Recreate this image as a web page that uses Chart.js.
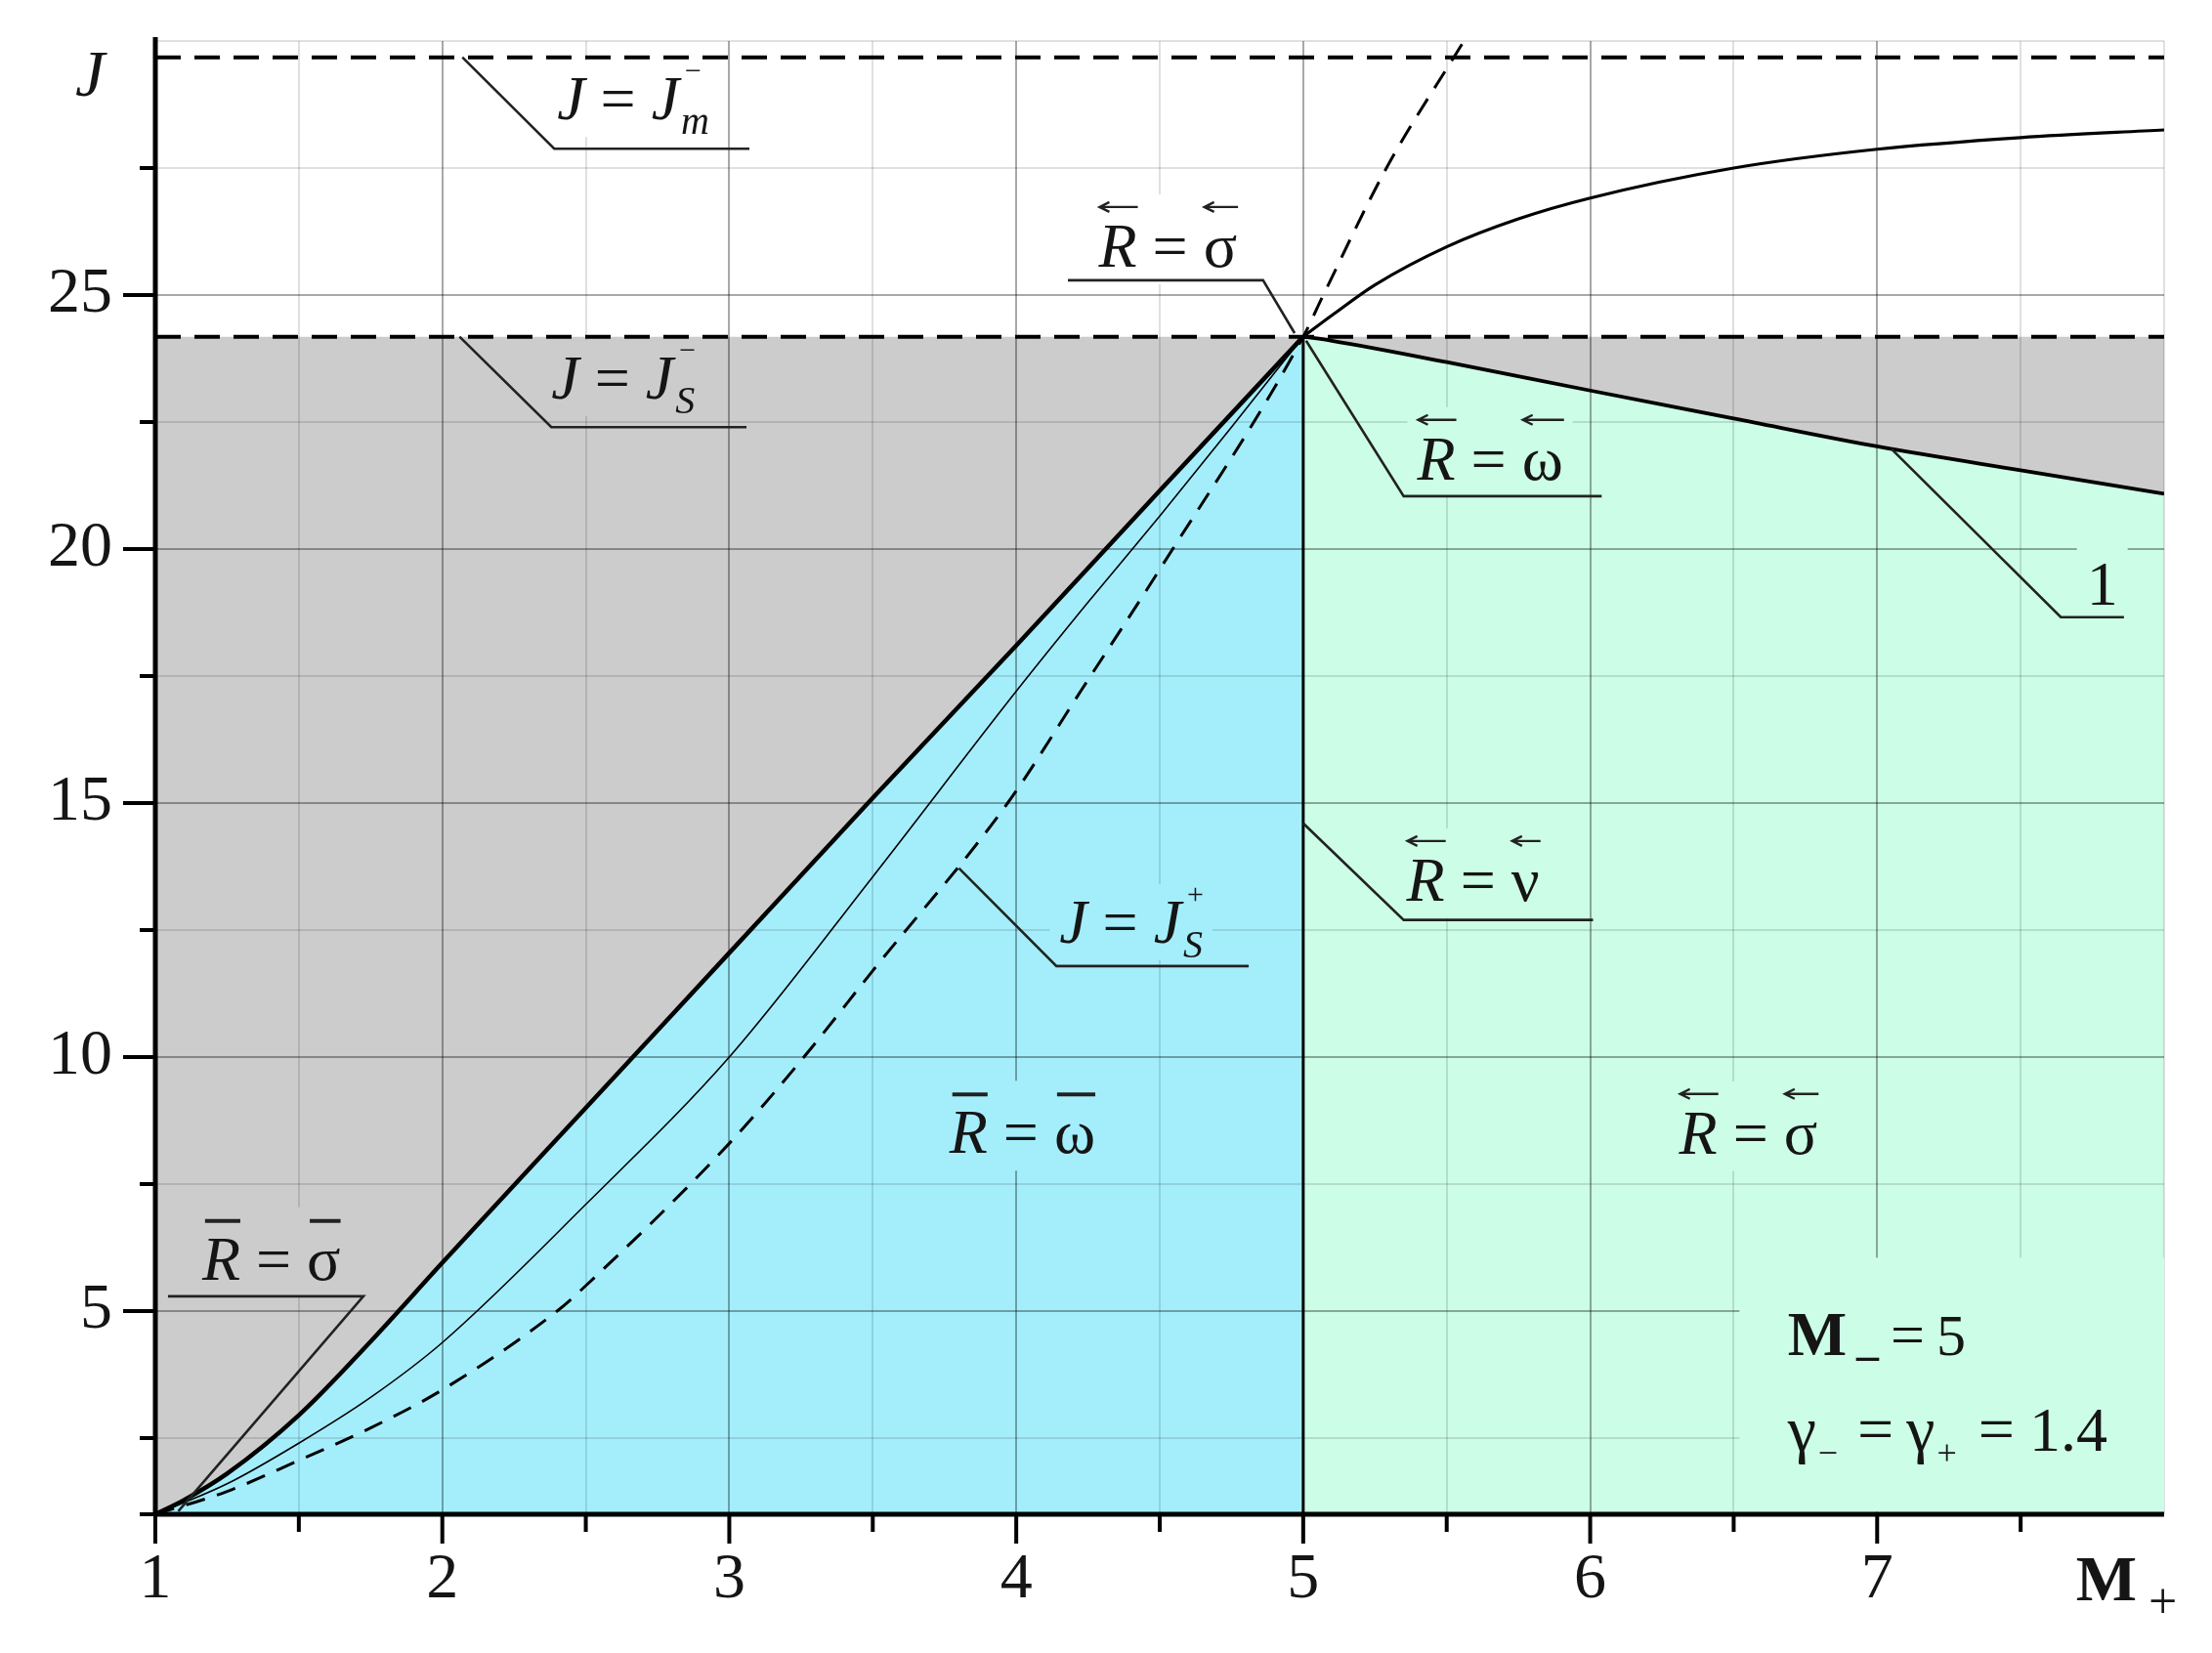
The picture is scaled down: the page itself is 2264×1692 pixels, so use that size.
<!DOCTYPE html>
<html>
<head>
<meta charset="utf-8">
<title>J – M+ diagram</title>
<script src="https://cdn.jsdelivr.net/npm/chart.js@4.4.1/dist/chart.umd.min.js"></script>
<style>
  html, body { margin: 0; padding: 0; background: #fff; }
  #wrap { width: 2264px; height: 1692px; position: relative; }
  #fontwarm { position: absolute; left: -5000px; top: 0; font-family: "Liberation Serif"; font-size: 40px; }
</style>
</head>
<body>
<div id="fontwarm">Aa25 <i>JR</i> <b>M</b> σων γ</div>
<div id="wrap"><canvas id="chart" width="2264" height="1692"></canvas></div>
<script>
// axes
const xTicks = [1, 1.5, 2, 2.5, 3, 3.5, 4, 4.5, 5, 5.5, 6, 6.5, 7, 7.5, 8];
const yTicks = [1, 2.5, 5, 7.5, 10, 12.5, 15, 17.5, 20, 22.5, 25, 27.5, 30];
const xTickLabels = ['1', '2', '3', '4', '5', '6', '7'];
const yTickLabels = ['5', '10', '15', '20', '25'];

// horizontal levels
const jmMinus = 29.68;   // J = J_m^-
const jsMinus = 24.18;   // J = J_s^-
const shockM = 5;        // vertical boundary M+ = 5

// thick boundary of the blue region
const boundM = [1, 1.1, 1.25, 1.5, 1.75, 2, 2.5, 3, 3.5, 4, 4.5, 5];
const boundJ = [1, 1.28, 1.8, 2.95, 4.4, 5.95, 9.0, 12.05, 15.1, 18.1, 21.15, 24.18];

// thin solid curve
const thinM = [1, 1.25, 1.5, 1.75, 2, 2.5, 3, 3.5, 4, 4.25, 4.5, 4.75, 5];
const thinJ = [1, 1.6, 2.4, 3.3, 4.38, 7.1, 10.0, 13.55, 17.2, 18.95, 20.65, 22.4, 24.18];

// dashed J = J_s^+
const jsPlusM = [1, 1.25, 1.5, 1.75, 2, 2.4, 2.5, 3, 3.26, 3.5, 3.97, 4.23, 4.5, 5, 5.07, 5.29, 5.56];
const jsPlusJ = [1, 1.45, 2.06, 2.7, 3.45, 5.0, 5.5, 8.3, 10.0, 11.7, 15.0, 17.25, 19.6, 24.18, 25.0, 27.5, 30.0];

// upper solid curve (M+ > 5)
const upperM = [5, 5.1, 5.25, 5.5, 5.75, 6, 6.5, 7, 7.5, 8];
const upperJ = [24.18, 24.6, 25.2, 25.95, 26.5, 26.91, 27.5, 27.87, 28.1, 28.25];

// curve 1 (top of the green region)
const curve1M = [5, 5.1, 5.5, 6, 6.5, 7, 7.5, 8];
const curve1J = [24.18, 24.1, 23.68, 23.12, 22.57, 22.02, 21.55, 21.09];

const GRAY = '#cccccc';
const BLUE = '#a4eefc';
const GREEN = '#ccfde6';

const pts = (ms, js) => ms.map((m, i) => ({ x: m, y: js[i] }));

// fonts
const FAM = '"Liberation Serif", "Tinos", "Times New Roman", "Times", serif';
const it = s => `italic ${s}px ${FAM}`;
const up = s => `${s}px ${FAM}`;
const bd = s => `bold ${s}px ${FAM}`;

const eqR = (sym, mark) => [
  { t: 'R', font: it(64), mark },
  { t: ' = ', font: up(64) },
  { t: sym, font: up(64), mark }
];
const eqJ = (sup, sub) => [
  { t: 'J', font: it(64) },
  { t: ' = ', font: up(64) },
  { t: 'J', font: it(64) },
  { t: sup, font: up(30), dy: -40, dx: 6, stack: true },
  { t: sub, font: it(40), dy: 15, dx: 2 }
];

// leader lines (M+, J)
const leaders = [
  [[2.07, jmMinus], [2.39, 27.88], [3.07, 27.88]],
  [[2.06, jsMinus], [2.38, 22.4], [3.06, 22.4]],
  [[4.18, 25.29], [4.86, 25.29], [4.97, 24.25]],
  [[5.01, 24.1], [5.35, 21.04], [6.04, 21.04]],
  [[7.05, 21.97], [7.64, 18.66], [7.86, 18.66]],
  [[1.044, 5.29], [1.725, 5.29], [1.08, 1.06]],
  [[3.8, 13.72], [4.14, 11.79], [4.81, 11.79]],
  [[5.0, 14.6], [5.35, 12.7], [6.01, 12.7]]
];

// text notes: left edge (M+) and baseline (J)
const notes = [
  { x: 2.40, y: 28.46, bg: '#ffffff', parts: eqJ('\u2212', 'm') },
  { x: 2.38, y: 22.96, bg: GRAY, parts: eqJ('\u2212', 'S') },
  { x: 4.287, y: 25.56, bg: '#ffffff', parts: eqR('\u03c3', 'arrow') },
  { x: 5.397, y: 21.37, bg: GREEN, parts: eqR('\u03c9', 'arrow') },
  { x: 7.73, y: 18.9, bg: GREEN, parts: [{ t: '1', font: up(64) }] },
  { x: 1.163, y: 5.62, bg: GRAY, parts: eqR('\u03c3', 'bar') },
  { x: 4.15, y: 12.25, bg: BLUE, parts: eqJ('+', 'S') },
  { x: 5.36, y: 13.08, bg: GREEN, parts: eqR('\u03bd', 'arrow') },
  { x: 3.767, y: 8.11, bg: BLUE, parts: eqR('\u03c9', 'bar') },
  { x: 6.31, y: 8.1, bg: GREEN, parts: eqR('\u03c3', 'arrow') },
  { x: 6.688, y: 4.135, parts: [
    { t: 'M', font: bd(64) },
    { t: '_', font: bd(46), dx: 10 },
    { t: '=', font: up(62), dx: 12 },
    { t: '5', font: up(60), dx: 12 }
  ] },
  { x: 6.688, y: 2.25, parts: [
    { t: '\u03b3', font: up(66) },
    { t: '\u2212', font: up(36), dy: 14, dx: 2 },
    { t: '=', font: up(66), dx: 20 },
    { t: '\u03b3', font: up(66), dx: 13 },
    { t: '+', font: up(36), dy: 14, dx: 2 },
    { t: '=', font: up(66), dx: 22 },
    { t: '1.4', font: up(64), dx: 15 }
  ] }
];
// plain green panel behind the parameter text
const panel = { x0: 6.52, x1: 8, y0: 1.05, y1: 6.05 };

function layout(ctx, parts) {
  let cx = 0;
  const items = parts.map(p => {
    ctx.font = p.font;
    const w = ctx.measureText(p.t).width;
    const item = Object.assign({}, p, { x: cx + (p.dx || 0), w });
    if (!p.stack) cx = item.x + w;
    return item;
  });
  return { items, width: cx };
}

function drawMark(ctx, kind, x0, x1, y) {
  ctx.beginPath();
  if (kind === 'arrow') {
    ctx.lineWidth = 2.4;
    ctx.moveTo(x0, y); ctx.lineTo(x1, y);
    ctx.moveTo(x0 + 10, y - 5); ctx.lineTo(x0, y); ctx.lineTo(x0 + 10, y + 5);
  } else {
    ctx.lineWidth = 4;
    ctx.moveTo(x0, y); ctx.lineTo(x1, y);
  }
  ctx.stroke();
}

const overlay = {
  id: 'overlay',
  beforeDatasetsDraw(chart) {
    const { ctx, chartArea: a, scales: { x, y } } = chart;
    ctx.save();
    // grid over the fills
    ctx.lineWidth = 2;
    x.ticks.forEach(t => {
      if (t.value <= 1) return;
      const px = Math.round(x.getPixelForValue(t.value));
      const major = Number.isInteger(t.value) && t.value < 8;
      ctx.strokeStyle = major ? 'rgba(0,0,0,0.34)' : 'rgba(0,0,0,0.12)';
      ctx.beginPath(); ctx.moveTo(px, a.top); ctx.lineTo(px, a.bottom); ctx.stroke();
    });
    y.ticks.forEach(t => {
      if (t.value <= 1) return;
      const py = Math.round(y.getPixelForValue(t.value));
      const major = t.value % 5 === 0 && t.value < 30;
      ctx.strokeStyle = major ? 'rgba(0,0,0,0.34)' : 'rgba(0,0,0,0.12)';
      ctx.beginPath(); ctx.moveTo(a.left, py); ctx.lineTo(a.right, py); ctx.stroke();
    });
    // text backgrounds
    ctx.fillStyle = GREEN;
    const px0 = x.getPixelForValue(panel.x0), px1 = x.getPixelForValue(panel.x1);
    const py0 = y.getPixelForValue(panel.y1), py1 = y.getPixelForValue(panel.y0);
    ctx.fillRect(px0, py0, px1 - px0, py1 - py0);
    notes.forEach(n => {
      if (!n.bg) return;
      const L = layout(ctx, n.parts);
      const hasMark = n.parts.some(p => p.mark);
      const bx = x.getPixelForValue(n.x), by = y.getPixelForValue(n.y);
      const top = hasMark ? by - 74 : by - 60;
      ctx.fillStyle = n.bg;
      ctx.fillRect(bx - 10, top, L.width + 20, by + 18 - top);
    });
    ctx.restore();
  },
  afterDatasetsDraw(chart) {
    const { ctx, chartArea: a, scales: { x, y } } = chart;
    ctx.save();
    ctx.strokeStyle = '#000';
    // tick marks
    ctx.lineWidth = 4;
    x.ticks.forEach(t => {
      if (t.value >= 8) return;
      const px = x.getPixelForValue(t.value);
      const len = Number.isInteger(t.value) ? 30 : 18;
      ctx.beginPath(); ctx.moveTo(px, a.bottom); ctx.lineTo(px, a.bottom + len); ctx.stroke();
    });
    y.ticks.forEach(t => {
      if (t.value >= 30) return;
      const py = y.getPixelForValue(t.value);
      const len = t.value % 5 === 0 ? 33 : 16;
      ctx.beginPath(); ctx.moveTo(a.left, py); ctx.lineTo(a.left - len, py); ctx.stroke();
    });
    // axis lines
    ctx.lineWidth = 5;
    ctx.beginPath(); ctx.moveTo(a.left, a.top - 4); ctx.lineTo(a.left, a.bottom + 2); ctx.stroke();
    ctx.beginPath(); ctx.moveTo(a.left - 2, a.bottom); ctx.lineTo(a.right, a.bottom); ctx.stroke();

    // leader lines
    ctx.strokeStyle = '#222';
    ctx.lineWidth = 2.6;
    leaders.forEach(line => {
      ctx.beginPath();
      line.forEach(([m, j], i) => {
        const px = x.getPixelForValue(m), py = y.getPixelForValue(j);
        if (i === 0) ctx.moveTo(px, py); else ctx.lineTo(px, py);
      });
      ctx.stroke();
    });

    // notes
    ctx.fillStyle = '#151515';
    ctx.strokeStyle = '#222';
    ctx.textBaseline = 'alphabetic';
    ctx.textAlign = 'left';
    notes.forEach(n => {
      const L = layout(ctx, n.parts);
      const bx = x.getPixelForValue(n.x), by = y.getPixelForValue(n.y);
      L.items.forEach(p => {
        ctx.font = p.font;
        ctx.fillText(p.t, bx + p.x, by + (p.dy || 0));
        if (p.mark === 'arrow') drawMark(ctx, 'arrow', bx + p.x + 1, bx + p.x + p.w + 1, by - 61);
        if (p.mark === 'bar') drawMark(ctx, 'bar', bx + p.x + 3, bx + p.x + p.w, by - 60);
      });
    });

    // axis titles
    ctx.font = it(68);
    ctx.fillText('J', a.left - 82, y.getPixelForValue(28.92));
    ctx.font = bd(66);
    const mx = x.getPixelForValue(7.693);
    ctx.fillText('M', mx, a.bottom + 88);
    const mw = ctx.measureText('M').width;
    ctx.font = up(52);
    ctx.fillText('+', mx + mw + 12, a.bottom + 106);
    ctx.restore();
  }
};

const lineDs = (data, extra) => Object.assign({
  data,
  borderColor: '#000',
  backgroundColor: 'transparent',
  pointRadius: 0,
  fill: false,
  cubicInterpolationMode: 'monotone'
}, extra);

const tickFont = { family: '"Liberation Serif", "Tinos", "Times New Roman", serif', size: 66 };

const chart = new Chart(document.getElementById('chart'), {
  type: 'line',
  data: {
    datasets: [
      lineDs(pts(boundM, boundJ), { borderWidth: 4.5 }),
      lineDs(pts(upperM, upperJ), { borderWidth: 3.2 }),
      lineDs(pts(curve1M, curve1J), { borderWidth: 3.8 }),
      lineDs(pts([shockM, shockM], [1, jsMinus]), { borderWidth: 3, cubicInterpolationMode: 'default', tension: 0 }),
      lineDs(pts(thinM, thinJ), { borderWidth: 1.6 }),
      lineDs(pts(jsPlusM, jsPlusJ), { borderWidth: 3, borderDash: [20, 13] }),
      lineDs(pts([1, 8], [jmMinus, jmMinus]), { borderWidth: 4, borderDash: [26, 14] }),
      lineDs(pts([1, 8], [jsMinus, jsMinus]), { borderWidth: 4, borderDash: [26, 14] }),
      // fills (highest index painted first)
      lineDs(pts(curve1M, curve1J), { borderWidth: 0, borderColor: 'transparent', backgroundColor: GREEN, fill: 'start' }),
      lineDs(pts(boundM, boundJ), { borderWidth: 0, borderColor: 'transparent', backgroundColor: BLUE, fill: 'start' }),
      lineDs(pts([1, 8], [jsMinus, jsMinus]), { borderWidth: 0, borderColor: 'transparent', backgroundColor: GRAY, fill: 'start' })
    ]
  },
  options: {
    responsive: false,
    animation: false,
    devicePixelRatio: 1,
    events: [],
    layout: { padding: { top: 42, right: 49, left: 0, bottom: 0 } },
    plugins: {
      legend: { display: false },
      tooltip: { enabled: false },
      filler: { drawTime: 'beforeDatasetsDraw', propagate: false }
    },
    scales: {
      x: {
        type: 'linear', min: 1, max: 8,
        afterBuildTicks: s => { s.ticks = xTicks.map(v => ({ value: v })); },
        afterFit: s => { s.height = 142; s.paddingLeft = 0; s.paddingRight = 0; },
        grid: { display: false, drawTicks: false },
        border: { display: false },
        ticks: {
          autoSkip: false, maxRotation: 0, minRotation: 0, padding: 28,
          color: '#151515', font: tickFont,
          callback: v => xTickLabels.includes(String(v)) ? String(v) : ''
        }
      },
      y: {
        type: 'linear', min: 1, max: 30,
        afterBuildTicks: s => { s.ticks = yTicks.map(v => ({ value: v })); },
        afterFit: s => { s.width = 159; s.paddingTop = 0; s.paddingBottom = 0; },
        grid: { display: false, drawTicks: false },
        border: { display: false },
        ticks: {
          autoSkip: false, padding: 44,
          color: '#151515', font: tickFont,
          callback: v => yTickLabels.includes(String(v)) ? String(v) : ''
        }
      }
    }
  },
  plugins: [overlay]
});

// redraw once the serif faces are ready
const wanted = ['64px "Liberation Serif"', 'italic 64px "Liberation Serif"', 'bold 64px "Liberation Serif"'];
Promise.all(wanted.map(f => document.fonts.load(f)))
  .then(() => document.fonts.ready)
  .then(() => chart.update('none'))
  .catch(() => {});
</script>
</body>
</html>
